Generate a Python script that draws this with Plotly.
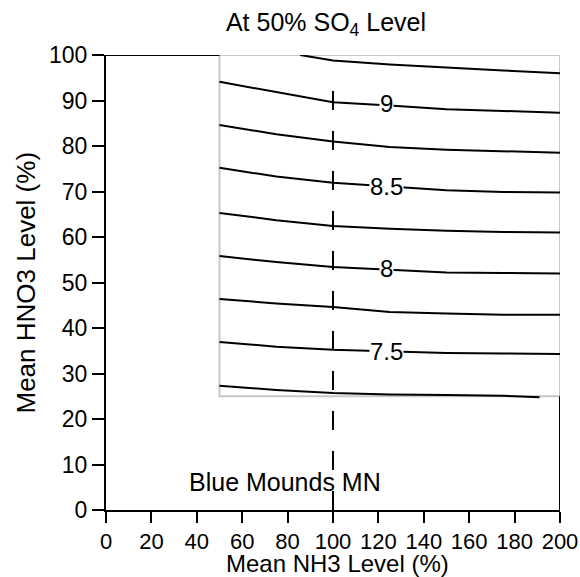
import plotly.graph_objects as go

# Contour traces of the response surface (levels and their HNO3 positions)
nh3_x = [50, 75, 100, 125, 150, 175, 200]
lvl_925_x = [85.5, 100, 125, 150, 175, 200]
lvl_925_y = [100.0, 98.8, 97.9, 97.2, 96.6, 96.0]
lvl_900_y = [94.1, 91.8, 89.6, 88.9, 88.1, 87.7, 87.3]
lvl_875_y = [84.6, 82.6, 81.0, 79.8, 79.2, 78.8, 78.5]
lvl_850_y = [75.2, 73.3, 71.9, 71.1, 70.3, 69.9, 69.8]
lvl_825_y = [65.3, 63.7, 62.4, 61.8, 61.4, 61.1, 61.0]
lvl_800_y = [55.8, 54.5, 53.4, 52.8, 52.2, 52.1, 52.0]
lvl_775_y = [46.4, 45.4, 44.6, 43.5, 43.2, 42.9, 42.9]
lvl_750_y = [36.9, 35.9, 35.2, 34.8, 34.5, 34.4, 34.3]
lvl_725_x = [50, 75, 100, 125, 150, 175, 191]
lvl_725_y = [27.3, 26.4, 25.7, 25.4, 25.3, 25.1, 24.8]

# Labelled levels
label_text = ["9", "8.5", "8", "7.5"]
label_x = [123.6, 123.6, 123.6, 123.6]
label_y = [89.3, 71.0, 53.0, 34.8]

x_ticks = list(range(0, 201, 20))
y_ticks = list(range(0, 101, 10))

FONT = "Liberation Sans, Arial, sans-serif"

contours = [
    (lvl_925_x, lvl_925_y),
    (nh3_x, lvl_900_y),
    (nh3_x, lvl_875_y),
    (nh3_x, lvl_850_y),
    (nh3_x, lvl_825_y),
    (nh3_x, lvl_800_y),
    (nh3_x, lvl_775_y),
    (nh3_x, lvl_750_y),
    (lvl_725_x, lvl_725_y),
]

fig = go.Figure()

for xs, ys in contours:
    fig.add_trace(go.Scatter(x=xs, y=ys, mode="lines",
                             line=dict(color="black", width=2),
                             hoverinfo="skip", showlegend=False))

# Reference NH3 level
fig.add_trace(go.Scatter(x=[100, 100], y=[0, 96], mode="lines",
                         line=dict(color="black", width=2, dash="19px,21px"),
                         hoverinfo="skip", showlegend=False))

for t, lx, ly in zip(label_text, label_x, label_y):
    fig.add_annotation(x=lx, y=ly, text=t, showarrow=False,
                       bgcolor="white", borderpad=0,
                       font=dict(family=FONT, size=24, color="black"))

# Grid domain box and outer frame pieces
fig.add_shape(type="rect", x0=50, x1=200, y0=25, y1=100,
              line=dict(color="#c8c8c8", width=2), layer="below")
fig.add_shape(type="line", x0=0, x1=50, y0=100, y1=100,
              line=dict(color="black", width=2))
fig.add_shape(type="line", x0=200, x1=200, y0=0, y1=25,
              line=dict(color="black", width=2))

fig.add_annotation(x=79, y=6.2, text="Blue Mounds MN", showarrow=False,
                   font=dict(family=FONT, size=25, color="black"))

fig.add_annotation(xref="paper", yref="paper", x=0.509, y=0, yshift=-53,
                   xanchor="center", yanchor="middle",
                   text="Mean NH3 Level (%)", showarrow=False,
                   font=dict(family=FONT, size=24, color="black"))
fig.add_annotation(xref="paper", yref="paper", x=0, y=0.5, xshift=-81,
                   xanchor="center", yanchor="middle", textangle=-90,
                   text="Mean HNO3 Level (%)", showarrow=False,
                   font=dict(family=FONT, size=26, color="black"))

fig.update_layout(
    width=580, height=577,
    margin=dict(l=106, r=20, t=55, b=67, autoexpand=False),
    paper_bgcolor="white", plot_bgcolor="white",
    title=dict(text="At 50% SO<sub>4</sub> Level", x=326 / 580, xanchor="center",
               y=1 - 22 / 577, yanchor="middle",
               font=dict(family=FONT, size=25, color="black")),
    font=dict(family=FONT, size=23, color="black"),
)
fig.update_xaxes(range=[0, 200], tickvals=x_ticks, ticks="outside", ticklen=11,
                 tickwidth=2, tickcolor="black", showline=True, linecolor="black",
                 linewidth=2, showgrid=False, zeroline=False, automargin=False,
                 tickfont=dict(family=FONT, size=22, color="black"))
fig.update_yaxes(range=[0, 100], tickvals=y_ticks, ticks="outside", ticklen=12,
                 tickwidth=2, tickcolor="black", showline=True, linecolor="black",
                 linewidth=2, showgrid=False, zeroline=False, automargin=False,
                 tickfont=dict(family=FONT, size=23, color="black"))

fig.write_html("out.html")
